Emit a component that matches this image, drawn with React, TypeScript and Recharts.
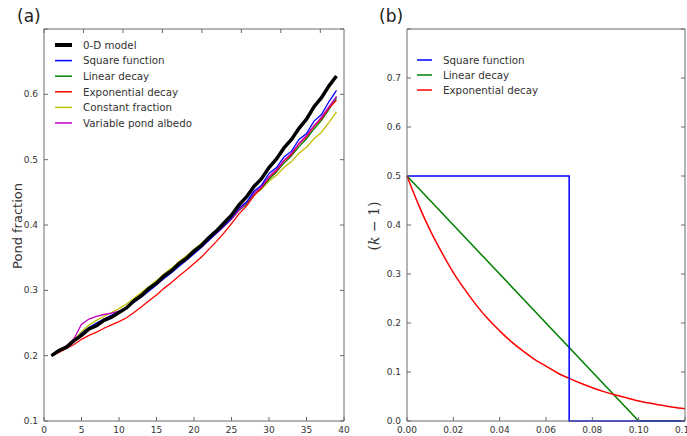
import { LineChart, Line, XAxis, YAxis } from "recharts"

// panel (a): pond fraction vs day
const days = [
  1, 2, 3, 4, 5, 6, 7, 8, 9, 10, 11, 12, 13, 14, 15, 16, 17, 18, 19, 20,
  21, 22, 23, 24, 25, 26, 27, 28, 29, 30, 31, 32, 33, 34, 35, 36, 37, 38, 39,
]
const zeroDModel = [
  0.2, 0.208, 0.213, 0.223, 0.231, 0.241, 0.246, 0.254, 0.259, 0.266, 0.273, 0.284, 0.292, 0.303,
  0.311, 0.322, 0.33, 0.341, 0.349, 0.36, 0.369, 0.381, 0.391, 0.403, 0.415, 0.431, 0.443, 0.459,
  0.471, 0.488, 0.501, 0.518, 0.531, 0.548, 0.562, 0.581, 0.595, 0.613, 0.628,
]
const squareFunction = [
  0.2, 0.207, 0.214, 0.222, 0.234, 0.243, 0.25, 0.256, 0.262, 0.267, 0.273, 0.282, 0.29, 0.299,
  0.308, 0.318, 0.327, 0.337, 0.346, 0.356, 0.366, 0.377, 0.388, 0.399, 0.411, 0.426, 0.435, 0.452,
  0.461, 0.479, 0.488, 0.504, 0.513, 0.531, 0.54, 0.559, 0.569, 0.589, 0.606,
]
const linearDecay = [
  0.2, 0.207, 0.214, 0.222, 0.234, 0.243, 0.249, 0.256, 0.261, 0.267, 0.274, 0.283, 0.292, 0.301,
  0.31, 0.319, 0.329, 0.338, 0.348, 0.357, 0.367, 0.377, 0.388, 0.398, 0.409, 0.422, 0.432, 0.446,
  0.456, 0.47, 0.481, 0.495, 0.506, 0.52, 0.532, 0.547, 0.56, 0.577, 0.595,
]
const exponentialDecay = [
  0.2, 0.205, 0.211, 0.217, 0.225, 0.231, 0.236, 0.242, 0.247, 0.252, 0.258, 0.266, 0.275, 0.284,
  0.293, 0.303, 0.312, 0.322, 0.331, 0.341, 0.351, 0.363, 0.375, 0.388, 0.402, 0.417, 0.429, 0.445,
  0.457, 0.473, 0.483, 0.498, 0.508, 0.524, 0.535, 0.551, 0.563, 0.579, 0.591,
]
const constantFraction = [
  0.2, 0.208, 0.215, 0.224, 0.237, 0.247, 0.254, 0.26, 0.266, 0.272, 0.279, 0.288, 0.297, 0.306,
  0.315, 0.325, 0.334, 0.344, 0.353, 0.363, 0.372, 0.382, 0.392, 0.402, 0.412, 0.424, 0.434, 0.446,
  0.455, 0.467, 0.476, 0.488, 0.497, 0.51, 0.519, 0.532, 0.542, 0.557, 0.573,
]
const variablePondAlbedo = [
  0.2, 0.208, 0.215, 0.226, 0.248, 0.256, 0.26, 0.263, 0.265, 0.268, 0.273, 0.282, 0.291, 0.3,
  0.309, 0.319, 0.328, 0.338, 0.347, 0.357, 0.366, 0.377, 0.387, 0.398, 0.409, 0.423, 0.434, 0.449,
  0.459, 0.474, 0.485, 0.499, 0.51, 0.525, 0.537, 0.552, 0.565, 0.581, 0.597,
]
const dayTicks = [0, 5, 10, 15, 20, 25, 30, 35, 40]
const fractionTicks = [0.1, 0.2, 0.3, 0.4, 0.5, 0.6, 0.7]

// panel (b): (k - 1) shapes
const kX = [
  0, 0.005, 0.01, 0.015, 0.02, 0.025, 0.03, 0.035, 0.04, 0.045, 0.05, 0.055, 0.06, 0.065, 0.07,
  0.075, 0.08, 0.085, 0.09, 0.095, 0.1, 0.105, 0.11, 0.115, 0.12,
]
const kExponential = [
  0.5, 0.441, 0.389, 0.344, 0.303, 0.268, 0.236, 0.208, 0.184, 0.162, 0.143, 0.126, 0.112, 0.098,
  0.087, 0.077, 0.068, 0.06, 0.053, 0.047, 0.041, 0.036, 0.032, 0.028, 0.025,
]
const squareX = [0, 0.07, 0.07, 0.12]
const squareY = [0.5, 0.5, 0, 0]
const linearX = [0, 0.1, 0.12]
const linearY = [0.5, 0, 0]
const kTicks = [0, 0.02, 0.04, 0.06, 0.08, 0.1, 0.12]
const kYTicks = [0, 0.1, 0.2, 0.3, 0.4, 0.5, 0.6, 0.7, 0.8]

const FONT = "'DejaVu Sans', sans-serif"
const AXIS = "#6a6a6a"
const TEXT = "#333"

const pondRows = days.map((d, i) => ({
  day: d,
  zeroD: zeroDModel[i],
  square: squareFunction[i],
  linear: linearDecay[i],
  expo: exponentialDecay[i],
  constant: constantFraction[i],
  variable: variablePondAlbedo[i],
}))
const toXY = (xs: number[], ys: number[]) => xs.map((x, i) => ({ x, y: ys[i] }))

const bottomTick = (fmt: (v: number) => string) => (p: any) => (
  <g>
    <line x1={p.x} x2={p.x} y1={p.y} y2={p.y - 4} stroke={AXIS} />
    <text x={p.x} y={p.y + 12} textAnchor="middle" fontSize={9} fill={TEXT} fontFamily={FONT}>
      {fmt(p.payload.value)}
    </text>
  </g>
)
const leftTick = (fmt: (v: number) => string, skip: number) => (p: any) => (
  <g>
    <line x1={p.x} x2={p.x + 4} y1={p.y} y2={p.y} stroke={AXIS} />
    {p.payload.value < skip && (
      <text x={p.x - 6} y={p.y + 3} textAnchor="end" fontSize={9} fill={TEXT} fontFamily={FONT}>
        {fmt(p.payload.value)}
      </text>
    )}
  </g>
)
const topTick = (p: any) => <line x1={p.x} x2={p.x} y1={p.y} y2={p.y + 4} stroke={AXIS} />
const rightTick = (p: any) => <line x1={p.x} x2={p.x - 4} y1={p.y} y2={p.y} stroke={AXIS} />

const legendA = [
  { label: "0-D model", color: "#000000", width: 4 },
  { label: "Square function", color: "#0000ff", width: 1.5 },
  { label: "Linear decay", color: "#008000", width: 1.5 },
  { label: "Exponential decay", color: "#ff0000", width: 1.5 },
  { label: "Constant fraction", color: "#bfbf00", width: 1.5 },
  { label: "Variable pond albedo", color: "#bf00bf", width: 1.5 },
]
const legendB = [
  { label: "Square function", color: "#0000ff" },
  { label: "Linear decay", color: "#008000" },
  { label: "Exponential decay", color: "#ff0000" },
]

export default function App() {
  return (
    <div style={{ position: "absolute", left: 0, top: 0, width: 687, height: 436, background: "#fff", overflow: "hidden" }}>
      <div style={{ position: "absolute", left: 0, top: 0 }}>
        <LineChart width={350} height={436} data={pondRows} margin={{ top: 28, right: 5, bottom: 14, left: 43 }}>
          <XAxis dataKey="day" type="number" domain={[0, 40]} ticks={dayTicks} height={1} tickSize={0} tickMargin={0}
            stroke={AXIS} tick={bottomTick((v) => String(v))} interval={0} />
          <XAxis xAxisId="top" orientation="top" type="number" domain={[0, 40]} ticks={dayTicks} height={1}
            tickSize={0} tickMargin={0} stroke={AXIS} tick={topTick} interval={0} allowDataOverflow />
          <YAxis type="number" domain={[0.1, 0.7]} ticks={fractionTicks} width={1} tickSize={0} tickMargin={0}
            stroke={AXIS} tick={leftTick((v) => v.toFixed(1), 0.65)} interval={0} />
          <YAxis yAxisId="right" orientation="right" type="number" domain={[0.1, 0.7]} ticks={fractionTicks} width={1}
            tickSize={0} tickMargin={0} stroke={AXIS} tick={rightTick} interval={0} allowDataOverflow />
          <Line dataKey="constant" stroke="#bfbf00" strokeWidth={1.3} dot={false} isAnimationActive={false} />
          <Line dataKey="linear" stroke="#008000" strokeWidth={1.3} dot={false} isAnimationActive={false} />
          <Line dataKey="expo" stroke="#ff0000" strokeWidth={1.3} dot={false} isAnimationActive={false} />
          <Line dataKey="variable" stroke="#bf00bf" strokeWidth={1.3} dot={false} isAnimationActive={false} />
          <Line dataKey="square" stroke="#0000ff" strokeWidth={1.3} dot={false} isAnimationActive={false} />
          <Line dataKey="zeroD" stroke="#000000" strokeWidth={3.5} dot={false} isAnimationActive={false} />
        </LineChart>
      </div>
      <div style={{ position: "absolute", left: 350, top: 0 }}>
        <LineChart width={337} height={436} margin={{ top: 28, right: 1, bottom: 14, left: 56 }}>
          <XAxis dataKey="x" type="number" domain={[0, 0.12]} ticks={kTicks} height={1} tickSize={0} tickMargin={0}
            stroke={AXIS} tick={bottomTick((v) => v.toFixed(2))} interval={0} />
          <XAxis xAxisId="top" orientation="top" type="number" domain={[0, 0.12]} ticks={kTicks} height={1}
            tickSize={0} tickMargin={0} stroke={AXIS} tick={topTick} interval={0} allowDataOverflow />
          <YAxis type="number" domain={[0, 0.8]} ticks={kYTicks} width={1} tickSize={0} tickMargin={0}
            stroke={AXIS} tick={leftTick((v) => v.toFixed(1), 0.75)} interval={0} />
          <YAxis yAxisId="right" orientation="right" type="number" domain={[0, 0.8]} ticks={kYTicks} width={1}
            tickSize={0} tickMargin={0} stroke={AXIS} tick={rightTick} interval={0} allowDataOverflow />
          <Line data={toXY(linearX, linearY)} dataKey="y" stroke="#008000" strokeWidth={1.5} dot={false} isAnimationActive={false} />
          <Line data={toXY(kX, kExponential)} dataKey="y" type="monotone" stroke="#ff0000" strokeWidth={1.5} dot={false} isAnimationActive={false} />
          <Line data={toXY(squareX, squareY)} dataKey="y" stroke="#0000ff" strokeWidth={1.5} dot={false} isAnimationActive={false} />
        </LineChart>
      </div>
      <svg width={687} height={436} style={{ position: "absolute", left: 0, top: 0, pointerEvents: "none" }} fontFamily={FONT}>
        <text x={17} y={22} fontSize={17} fill="#222">(a)</text>
        <text x={379} y={22} fontSize={17} fill="#222">(b)</text>
        <text transform="translate(22,226) rotate(-90)" textAnchor="middle" fontSize={13} fill={TEXT}>Pond fraction</text>
        <text transform="translate(379,226) rotate(-90)" textAnchor="middle" fontSize={14} fill={TEXT}
          fontFamily="'DejaVu Serif', serif">
          (<tspan fontStyle="italic">k</tspan> − 1)
        </text>
        {legendA.map((e, i) => {
          const y = 45 + i * 15.6
          return (
            <g key={e.label}>
              <line x1={55} x2={72} y1={y} y2={y} stroke={e.color} strokeWidth={e.width} />
              <text x={83} y={y + 3.7} fontSize={10.3} fill={TEXT}>{e.label}</text>
            </g>
          )
        })}
        {legendB.map((e, i) => {
          const y = 60 + i * 15
          return (
            <g key={e.label}>
              <line x1={417} x2={432} y1={y} y2={y} stroke={e.color} strokeWidth={1.5} />
              <text x={443} y={y + 3.7} fontSize={10.3} fill={TEXT}>{e.label}</text>
            </g>
          )
        })}
      </svg>
    </div>
  )
}
